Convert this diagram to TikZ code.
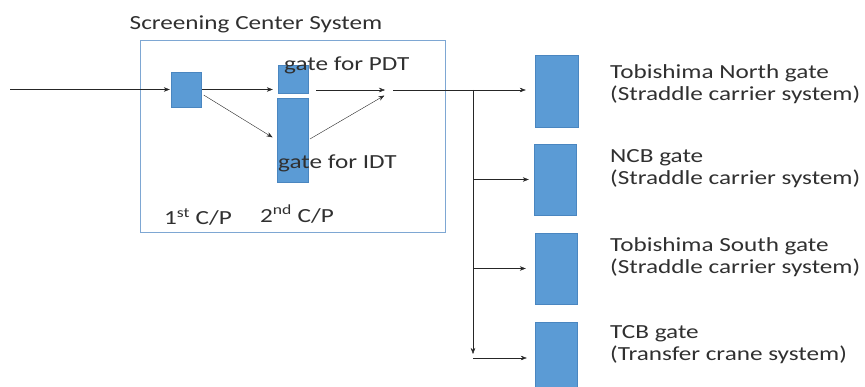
\documentclass[tikz,border=0pt]{standalone}
\usepackage{fontspec}
\setmainfont{Carlito}[FakeStretch=1.26]
\usetikzlibrary{arrows.meta}
\definecolor{gateblue}{HTML}{5B9BD5}
\definecolor{gateedge}{HTML}{4A86C0}
\definecolor{sysedge}{HTML}{7EA7D3}
\definecolor{txtgray}{HTML}{303030}
\begin{document}
\begin{tikzpicture}[>={Stealth[length=6pt,width=4.5pt]}, x=1pt, y=-1pt,
    gatebox/.style={draw=gateedge, fill=gateblue, inner sep=0pt},
    lbl/.style={text=txtgray, inner sep=0pt, font=\fontsize{20}{22}\selectfont},
    flow/.style={->, draw=black!85, thin}]
    \useasboundingbox (0,0) rectangle (865,387);
    \clip (0,0) rectangle (865,387);
    % Screening center frame
    \node[draw=sysedge, thick, minimum width=305pt, minimum height=192pt, inner sep=0pt] (sys) at (292.5,136) {};
    \node[lbl, anchor=south] (systitle) at (256,33) {Screening Center System};
    % Checkpoints inside the frame
    \node[gatebox, minimum width=30pt, minimum height=35pt] (cp1) at (186,89.5) {};
    \node[gatebox, minimum width=30pt, minimum height=28pt] (pdt) at (293,79) {};
    \node[gatebox, minimum width=31pt, minimum height=84pt] (idt) at (292.5,140) {};
    \node[lbl, anchor=west] (pdtlbl) at (284,65) {gate for PDT};
    \node[lbl, anchor=west] (idtlbl) at (278,163) {gate for IDT};
    \node[lbl] (cp1lbl) at (198,217) {1\textsuperscript{st} C/P};
    \node[lbl] (cp2lbl) at (297,214) {2\textsuperscript{nd} C/P};
    \coordinate (entry) at (10,89.5);
    \coordinate (merge) at (387,90);
    \coordinate (out) at (393,90);
    \coordinate (junc) at (473,90);
    \coordinate (jend) at (473,358);
    % Terminal gates
    \node[gatebox, minimum width=43pt, minimum height=72pt] (north) at (556.5,91) {};
    \node[gatebox, minimum width=42pt, minimum height=71pt] (ncb) at (555,179.5) {};
    \node[gatebox, minimum width=42pt, minimum height=71pt] (south) at (556,268.5) {};
    \node[gatebox, minimum width=42pt, minimum height=72pt] (tcb) at (556,358) {};
    \node[lbl, anchor=west, align=left] (northlbl) at (610,84) {Tobishima North gate\\(Straddle carrier system)};
    \node[lbl, anchor=west, align=left] (ncblbl) at (610,169) {NCB gate\\(Straddle carrier system)};
    \node[lbl, anchor=west, align=left] (southlbl) at (610,257) {Tobishima South gate\\(Straddle carrier system)};
    \node[lbl, anchor=west, align=left] (tcblbl) at (610,345) {TCB gate\\(Transfer crane system)};
    % Flow through the screening center
    \draw[flow, shorten >=1pt] (entry) -- (cp1.west);
    \draw[flow, shorten <=1pt, shorten >=5pt] (cp1.east) -- (cp1.east -| pdt.west);
    \draw[flow, shorten <=3pt, shorten >=5pt] ([yshift=-4pt]cp1.east) -- (idt.west);
    \draw[flow, shorten <=8pt, shorten >=2pt] (pdt.east |- merge) -- (merge);
    \draw[flow, shorten <=2pt, shorten >=3pt] (idt.east) -- ([yshift=-4pt]merge);
    % Distribution to the gates
    \draw[flow, shorten >=9pt] (out) -- (out -| north.west);
    \draw[flow, shorten >=4pt] (junc) -- (jend);
    \draw[flow, shorten >=5pt] (junc |- ncb) -- (ncb.west);
    \draw[flow, shorten >=9pt] (junc |- south) -- (south.west);
    \draw[flow, shorten >=8pt] (jend) -- (jend -| tcb.west);
\end{tikzpicture}
\end{document}
